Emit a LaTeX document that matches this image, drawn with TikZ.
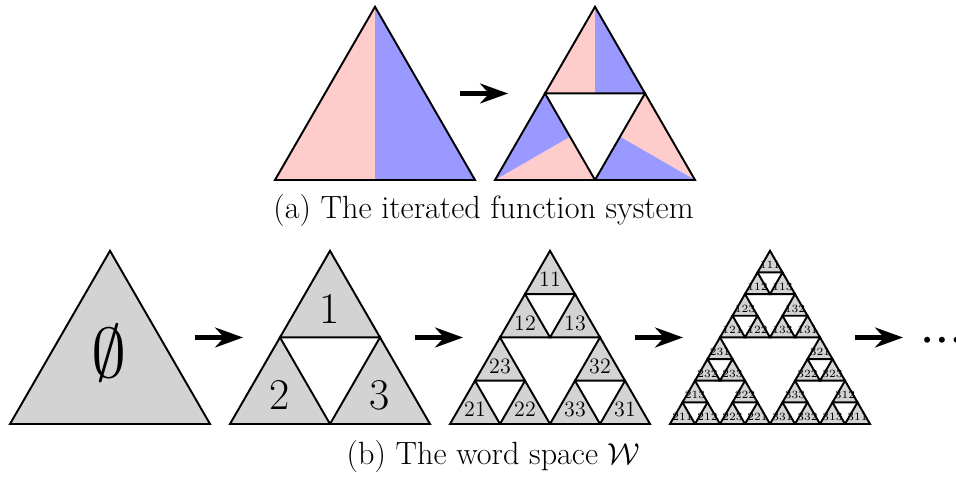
\documentclass[tikz,border=0pt]{standalone}
\usepackage{graphicx}
\usepackage{tikz}
\usetikzlibrary{arrows.meta, calc}
\definecolor{cellgray}{RGB}{211, 211, 211}
\definecolor{pastelpink}{RGB}{255, 204, 204}
\definecolor{pastelblue}{RGB}{153, 153, 255}
\tikzset{
  cell/.style={draw=black, line width=1.1pt, fill=cellgray},
  edge/.style={draw=black, line width=1.1pt},
  refine/.style={-{Stealth[length=5.6mm, width=4mm]}, line width=2.3pt, black},
  caption/.style={font=\fontsize{18.3}{22}\selectfont, inner sep=0pt}
}
% word triangle: base-left x, base-left y, side, word, font size, name
\newcommand{\wordtri}[6]{
  \draw[cell] (#1, #2) -- ++(#3, 0) -- ++(120:#3) -- cycle;
  \node[font=\fontsize{#5}{#5}\selectfont, inner sep=0pt] (#6) at ($(#1, #2)+(0.5*#3, 0.2887*#3)$) {#4};
}

\begin{document}
\begin{tikzpicture}
\useasboundingbox (0, 0) rectangle (19.12, 9.54);

% (a) Iterated function system
\fill[pastelpink] (5.5, 5.94) -- (7.5, 5.94) -- (7.5, 9.404) -- cycle;
\fill[pastelblue] (7.5, 5.94) -- (9.5, 5.94) -- (7.5, 9.404) -- cycle;
\draw[edge] (5.5, 5.94) -- (9.5, 5.94) -- (7.5, 9.404) -- cycle;

% f1 (top), f2 (left), f3 (right)
\fill[pastelpink] (10.9, 7.672) -- (11.9, 7.672) -- (11.9, 9.404) -- cycle;
\fill[pastelblue] (11.9, 7.672) -- (12.9, 7.672) -- (11.9, 9.404) -- cycle;
\fill[pastelpink] (9.9, 5.94) -- (11.9, 5.94) -- (11.4, 6.806) -- cycle;
\fill[pastelblue] (9.9, 5.94) -- (11.4, 6.806) -- (10.9, 7.672) -- cycle;
\fill[pastelpink] (13.9, 5.94) -- (12.9, 7.672) -- (12.4, 6.806) -- cycle;
\fill[pastelblue] (13.9, 5.94) -- (12.4, 6.806) -- (11.9, 5.94) -- cycle;
\draw[edge] (10.9, 7.672) -- (12.9, 7.672) -- (11.9, 9.404) -- cycle;
\draw[edge] (9.9, 5.94) -- (11.9, 5.94) -- (10.9, 7.672) -- cycle;
\draw[edge] (11.9, 5.94) -- (13.9, 5.94) -- (12.9, 7.672) -- cycle;

\coordinate (ifs-out) at (9.2, 7.67);
\coordinate (ifs-in) at (10.16, 7.67);
\draw[refine] (ifs-out) -- (ifs-in);

\node[caption] (capa) at (9.67, 5.33) {(a) The iterated function system};

% (b) Word space
\draw[cell] (0.2, 1.06) -- ++(4, 0) -- ++(120:4) -- cycle;
\node[inner sep=0pt] (w-empty) at (2.18, 2.47) {\scalebox{4}{$\emptyset$}};

% level 1
\foreach \i/\j/\w in {0/0/2, 1/0/3, 0/1/1}{
  \pgfmathsetmacro{\px}{4.6+(\i+\j/2)*2}
  \pgfmathsetmacro{\py}{1.06+\j*1.732}
  \wordtri{\px}{\py}{2}{\w}{25}{w\w}
}

% level 2
\foreach \i/\j/\w in {0/0/21, 1/0/22, 0/1/23, 2/0/33, 3/0/31, 2/1/32, 0/2/12, 1/2/13, 0/3/11}{
  \pgfmathsetmacro{\px}{9.0+(\i+\j/2)*1}
  \pgfmathsetmacro{\py}{1.06+\j*0.866}
  \wordtri{\px}{\py}{1}{\w}{12.5}{w\w}
}

% level 3
\foreach \i/\j/\w in {0/0/211, 1/0/212, 0/1/213, 2/0/223, 3/0/221, 2/1/222,
    0/2/232, 1/2/233, 0/3/231, 4/0/331, 5/0/332, 4/1/333, 6/0/313, 7/0/311,
    6/1/312, 4/2/322, 5/2/323, 4/3/321, 0/4/121, 1/4/122, 0/5/123, 2/4/133,
    3/4/131, 2/5/132, 0/6/112, 1/6/113, 0/7/111}{
  \pgfmathsetmacro{\px}{13.4+(\i+\j/2)*0.5}
  \pgfmathsetmacro{\py}{1.06+\j*0.433}
  \wordtri{\px}{\py}{0.5}{\w}{6.3}{w\w}
}

\node[font=\fontsize{12.5}{12.5}\selectfont, inner sep=0pt, anchor=west] (more) at (18.37, 2.71) {\textbullet\kern-1.1pt\textbullet\kern-1.1pt\textbullet};

% refinement arrows
\coordinate (w0-out) at (3.9, 2.79);
\coordinate (w1-in) at (4.86, 2.79);
\coordinate (w1-out) at (8.3, 2.79);
\coordinate (w2-in) at (9.26, 2.79);
\coordinate (w2-out) at (12.7, 2.79);
\coordinate (w3-in) at (13.66, 2.79);
\coordinate (w3-out) at (17.1, 2.79);
\coordinate (more-in) at (18.06, 2.79);
\draw[refine] (w0-out) -- (w1-in);
\draw[refine] (w1-out) -- (w2-in);
\draw[refine] (w2-out) -- (w3-in);
\draw[refine] (w3-out) -- (more-in);

\node[caption] (capb) at (9.87, 0.42) {(b) The word space $\mathcal{W}$};

\end{tikzpicture}
\end{document}
